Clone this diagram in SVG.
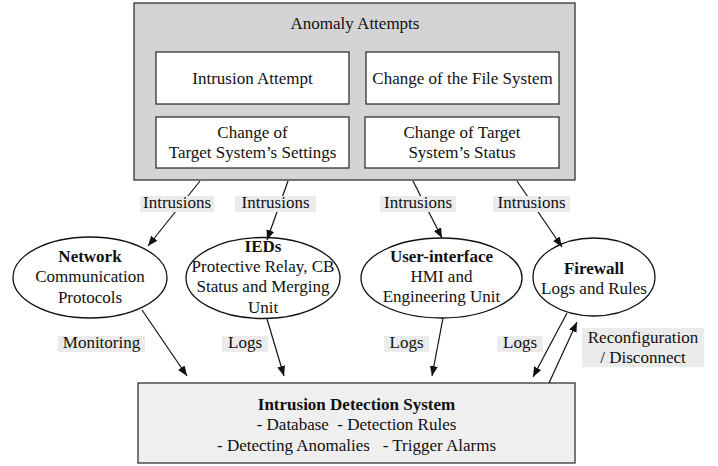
<svg xmlns="http://www.w3.org/2000/svg" width="718" height="466" viewBox="0 0 718 466">
  <style>
    text { font-family: "Liberation Serif", "Times New Roman", serif; font-size: 17px; fill: #111; text-anchor: middle; }
    .b { font-weight: bold; }
    .box { stroke: #333; stroke-width: 1.3; }
    .ell { fill: #fff; stroke: #111; stroke-width: 1.3; }
    .lbl { fill: #ebebeb; }
    .conn line { stroke: #111; stroke-width: 1.2; }
  </style>
  <defs>
    <marker id="arrow" viewBox="0 0 10 10" refX="10" refY="5" markerWidth="10" markerHeight="10" markerUnits="userSpaceOnUse" orient="auto">
      <path d="M0,1 L10,5 L0,9 Z" fill="#111"/>
    </marker>
  </defs>
  <rect width="718" height="466" fill="#fff"/>

  <!-- Anomaly attempts container -->
  <g id="anomaly-attempts">
    <rect class="box" x="134" y="3" width="441" height="177" fill="#d4d4d4"/>
    <text x="355" y="29">Anomaly Attempts</text>
  </g>
  <g id="intrusion-attempt">
    <rect class="box" x="156" y="52" width="193" height="52" fill="#fff"/>
    <text x="252.5" y="84">Intrusion Attempt</text>
  </g>
  <g id="file-system">
    <rect class="box" x="366" y="52" width="193" height="52" fill="#fff"/>
    <text x="462.5" y="84">Change of the File System</text>
  </g>
  <g id="settings">
    <rect class="box" x="156" y="117" width="193" height="51" fill="#fff"/>
    <text x="252.5" y="138">Change of</text>
    <text x="252.5" y="158">Target System’s Settings</text>
  </g>
  <g id="status">
    <rect class="box" x="365" y="117" width="194" height="51" fill="#fff"/>
    <text x="462" y="138">Change of Target</text>
    <text x="462" y="158">System’s Status</text>
  </g>

  <!-- Monitored components -->
  <g id="network">
    <ellipse class="ell" cx="90" cy="277.5" rx="77" ry="40.5"/>
    <text class="b" x="90" y="262">Network</text>
    <text x="90" y="282">Communication</text>
    <text x="90" y="303">Protocols</text>
  </g>
  <g id="ieds">
    <ellipse class="ell" cx="263" cy="278" rx="77" ry="40.5"/>
    <text class="b" x="263" y="252">IEDs</text>
    <text x="263" y="272">Protective Relay, CB</text>
    <text x="263" y="292">Status and Merging</text>
    <text x="263" y="313">Unit</text>
  </g>
  <g id="user-interface">
    <ellipse class="ell" cx="441.5" cy="278" rx="80.5" ry="40"/>
    <text class="b" x="441.5" y="262">User-interface</text>
    <text x="441.5" y="282">HMI and</text>
    <text x="441.5" y="302">Engineering Unit</text>
  </g>
  <g id="firewall">
    <ellipse class="ell" cx="594" cy="277" rx="61" ry="39"/>
    <text class="b" x="594" y="274">Firewall</text>
    <text x="594" y="294">Logs and Rules</text>
  </g>

  <!-- Intrusion detection system -->
  <g id="ids">
    <rect class="box" x="138" y="383" width="437" height="80" fill="#efefef"/>
    <text class="b" x="356.5" y="410">Intrusion Detection System</text>
    <text x="356.5" y="430" xml:space="preserve">- Database  - Detection Rules</text>
    <text x="356.5" y="451" xml:space="preserve">- Detecting Anomalies   - Trigger Alarms</text>
  </g>

  <!-- Connectors -->
  <g id="connectors" class="conn">
    <line x1="200" y1="181" x2="148" y2="246" marker-end="url(#arrow)"/>
    <line x1="288" y1="181" x2="267" y2="240" marker-end="url(#arrow)"/>
    <line x1="413" y1="181" x2="442" y2="238" marker-end="url(#arrow)"/>
    <line x1="517" y1="181" x2="562" y2="247" marker-end="url(#arrow)"/>
    <line x1="142" y1="310" x2="187" y2="376" marker-end="url(#arrow)"/>
    <line x1="267" y1="319" x2="284" y2="376" marker-end="url(#arrow)"/>
    <line x1="443" y1="318" x2="432" y2="376" marker-end="url(#arrow)"/>
    <line x1="567" y1="313" x2="533" y2="377" marker-end="url(#arrow)"/>
    <line x1="549" y1="383" x2="577" y2="322" marker-end="url(#arrow)"/>
  </g>

  <!-- Connector labels -->
  <g id="labels">
    <rect class="lbl" x="140" y="196" width="74" height="16"/>
    <text x="177" y="208">Intrusions</text>
    <rect class="lbl" x="235" y="196" width="81" height="16"/>
    <text x="275.5" y="208">Intrusions</text>
    <rect class="lbl" x="380" y="196" width="76" height="16"/>
    <text x="418" y="208">Intrusions</text>
    <rect class="lbl" x="493" y="196" width="77" height="16"/>
    <text x="531.5" y="208">Intrusions</text>
    <rect class="lbl" x="58" y="336" width="87" height="16"/>
    <text x="101.5" y="348">Monitoring</text>
    <rect class="lbl" x="222" y="336" width="46" height="16"/>
    <text x="245" y="348">Logs</text>
    <rect class="lbl" x="384" y="336" width="45" height="16"/>
    <text x="406.5" y="348">Logs</text>
    <rect class="lbl" x="497" y="336" width="46" height="16"/>
    <text x="520" y="348">Logs</text>
    <rect class="lbl" x="582" y="328" width="122" height="39"/>
    <text x="643" y="343">Reconfiguration</text>
    <text x="643" y="363">/ Disconnect</text>
  </g>
</svg>
